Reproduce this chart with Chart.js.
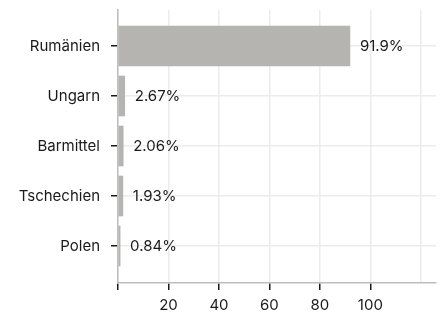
<!DOCTYPE html>
<html>
<head>
<meta charset="utf-8">
<script src="https://cdn.jsdelivr.net/npm/chart.js@4"></script>
<style>
  html, body { margin: 0; padding: 0; background: #fff; }
  #wrap { width: 443px; height: 313px; }
</style>
</head>
<body>
<div id="wrap"><canvas id="myChart"></canvas></div>
<script>
var categories = ["Rumänien", "Ungarn", "Barmittel", "Tschechien", "Polen"];
var shares = [91.9, 2.67, 2.06, 1.93, 0.84];
var shareLabels = ["91.9%", "2.67%", "2.06%", "1.93%", "0.84%"];
var xTickLabels = { 20: "20", 40: "40", 60: "60", 80: "80", 100: "100" };

var textColor = "#1a1a1a";
Chart.defaults.font.family = "Inter";
Chart.defaults.font.size = 15;
Chart.defaults.color = textColor;

// value labels to the right of each bar
var valueLabels = {
  id: "valueLabels",
  afterDatasetsDraw(chart) {
    var ctx = chart.ctx;
    var meta = chart.getDatasetMeta(0);
    ctx.save();
    ctx.font = "15px Inter";
    ctx.fillStyle = textColor;
    ctx.textAlign = "left";
    ctx.textBaseline = "middle";
    meta.data.forEach(function (bar, i) {
      ctx.fillText(shareLabels[i], bar.x + 10, bar.y);
    });
    ctx.restore();
  }
};

new Chart("myChart", {
  type: "bar",
  data: {
    datasets: [{
      data: shares.map(function (v, i) { return { x: v, y: i }; }),
      backgroundColor: "#b5b4b0",
      barThickness: 40
    }]
  },
  options: {
    indexAxis: "y",
    responsive: true,
    maintainAspectRatio: false,
    animation: false,
    layout: { padding: { top: 10, right: 7, left: 0, bottom: 0 } },
    plugins: { legend: { display: false }, tooltip: { enabled: false } },
    scales: {
      x: {
        type: "linear",
        min: 0,
        max: 126,
        offset: false,
        afterFit: function (s) { s.height = 30; s.paddingLeft = 0; s.paddingRight = 0; },
        ticks: {
          stepSize: 20,
          includeBounds: false,
          padding: 6,
          maxRotation: 0,
          callback: function (v) { return xTickLabels[v] || ""; }
        },
        grid: {
          offset: false,
          color: "#ececec",
          lineWidth: 1.5,
          tickLength: 7,
          tickWidth: 1.5,
          tickColor: function (c) { return c.tick && c.tick.value > 100 ? "rgba(0,0,0,0)" : textColor; }
        },
        border: { color: "#bdbdbd", width: 1.5 }
      },
      y: {
        type: "linear",
        reverse: true,
        min: -0.72,
        max: 4.74,
        offset: false,
        afterFit: function (s) { s.width = 118; s.paddingTop = 0; s.paddingBottom = 0; },
        ticks: {
          stepSize: 1,
          includeBounds: false,
          padding: 11,
          callback: function (v) { return categories[v] || ""; }
        },
        grid: {
          offset: false,
          color: "#ececec",
          lineWidth: 1.5,
          tickLength: 7,
          tickWidth: 1.5,
          tickColor: textColor
        },
        border: { color: "#bdbdbd", width: 1.5 }
      }
    }
  },
  plugins: [valueLabels]
});
</script>
</body>
</html>
